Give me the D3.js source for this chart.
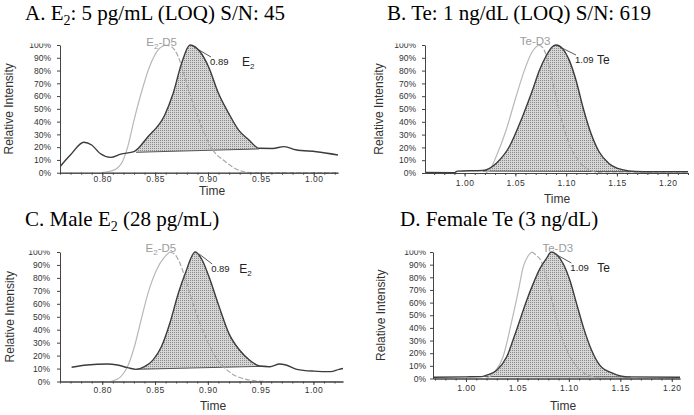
<!DOCTYPE html>
<html>
<head>
<meta charset="utf-8">
<script src="https://cdn.jsdelivr.net/npm/d3@7"></script>
<style>
  body { margin: 0; background: #fff; }
  svg { display: block; background: #fff; }
  .tick text { font-family: "Liberation Sans", Arial, sans-serif; font-size: 8.5px; fill: #333; }
  .axis path, .axis line { stroke: #444; }
  .title { font-family: "Liberation Serif", "Times New Roman", serif; font-size: 21px; fill: #000; }
  .lab { font-family: "Liberation Sans", Arial, sans-serif; fill: #333; }
</style>
</head>
<body>
<svg id="chart" width="694" height="415"></svg>
<script>
// A. E2 at LOQ
const timeA = [0.760, 0.770, 0.7825, 0.790, 0.798, 0.808, 0.8175, 0.830, 0.843, 0.859, 0.867, 0.875, 0.883, 0.8925, 0.9005, 0.910, 0.9196, 0.929, 0.9388, 0.9483, 0.961, 0.9722, 0.983, 1.0026, 1.023];
const e2A = [4.7, 14, 23.8, 21.7, 15, 12, 14.6, 16.5, 28, 45, 62, 85.6, 100, 94.7, 83, 62, 46.5, 33.4, 25.6, 19.1, 19, 20.4, 18, 16.4, 13.9];
const timeIsA = [0.800, 0.811, 0.819, 0.824, 0.830, 0.8367, 0.8447, 0.8526, 0.859, 0.8654, 0.8718, 0.878, 0.886, 0.894, 0.9036, 0.9165, 0.929, 0.942, 1.023];
const e2d5A = [0, 2, 8.6, 20, 41, 62, 83, 96, 100, 98.7, 91, 75, 54, 36, 19, 8.6, 2, 0, 0];
const intTimeA = [0.832, 0.9483];
const intLevelA = [16, 18.6];

// B. Te at LOQ
const timeB = [0.961, 0.990, 0.993, 1.018, 1.031, 1.044, 1.057, 1.067, 1.0736, 1.080, 1.0864, 1.090, 1.0966, 1.1031, 1.1097, 1.1164, 1.1244, 1.1324, 1.1424, 1.1554, 1.168, 1.185, 1.220];
const teB = [0.5, 0.3, 1.5, 2, 7.5, 20.5, 44, 65, 80, 91, 98.7, 100, 97, 88, 72.5, 51.8, 31, 16.6, 7.3, 2.6, 1.2, 1, 1];
const timeIsB = [1.021, 1.026, 1.031, 1.0407, 1.0504, 1.0588, 1.0654, 1.0704, 1.0734, 1.0784, 1.0834, 1.090, 1.0966, 1.1044, 1.113, 1.1229, 1.136, 1.220];
const teD3B = [0, 4, 12.7, 33, 59, 80, 93, 98.5, 100, 96, 83, 59.6, 38.6, 20.3, 8.8, 2.3, 0, 0];
const intTimeB = [1.018, 1.185];
const intLevelB = [1.5, 1];

// C. male E2
const timeC = [0.771, 0.7856, 0.8048, 0.8144, 0.824, 0.832, 0.840, 0.848, 0.856, 0.864, 0.872, 0.8786, 0.888, 0.8945, 0.901, 0.9106, 0.920, 0.930, 0.9394, 0.949, 0.9587, 0.968, 0.974, 0.9843, 1.0003, 1.0163, 1.0243, 1.028];
const e2C = [11, 12.7, 13.5, 12.7, 10.7, 9.4, 11.4, 16.5, 26.8, 45, 68, 83.4, 100, 94, 81, 58, 37, 24.3, 16.6, 12, 11.4, 13.5, 12.7, 9.4, 8, 7.6, 9.4, 10];
const timeIsC = [0.808, 0.8176, 0.824, 0.8305, 0.8368, 0.8433, 0.8513, 0.8593, 0.8641, 0.869, 0.8738, 0.880, 0.888, 0.8978, 0.9074, 0.920, 0.9363, 0.9555, 1.028];
const e2d5C = [0, 3.8, 11.5, 27, 47.5, 68, 86, 96.4, 100, 98, 91, 75.7, 55, 34.6, 19, 7.6, 1.7, 0, 0];
const intTimeC = [0.832, 0.9555];
const intLevelC = [9.4, 11.8];

// D. female Te
const timeD = [0.968, 1.000, 1.015, 1.020, 1.030, 1.0395, 1.049, 1.059, 1.0654, 1.072, 1.078, 1.083, 1.088, 1.0945, 1.101, 1.1075, 1.114, 1.122, 1.130, 1.143, 1.156, 1.208];
const teD = [1, 1.3, 1.5, 2.6, 6.5, 17, 38, 61.7, 75, 87, 94.6, 100, 98, 90.7, 77.6, 59.2, 40.8, 22.5, 10.6, 4, 1.3, 1];
const timeIsD = [1.020, 1.028, 1.036, 1.044, 1.051, 1.0556, 1.0605, 1.064, 1.069, 1.073, 1.078, 1.085, 1.093, 1.101, 1.111, 1.124, 1.135, 1.208];
const teD3D = [0, 5.3, 17, 43.5, 69.6, 88, 97, 100, 97, 93, 80.6, 57, 33, 17.5, 6.5, 1.3, 0, 0];
const intTimeD = [1.018, 1.16];
const intLevelD = [1.5, 1.2];

const yTicks = [0, 10, 20, 30, 40, 50, 60, 70, 80, 90, 100];
const e2Ticks = [0.80, 0.85, 0.90, 0.95, 1.00];
const teTicks = [1.00, 1.05, 1.10, 1.15, 1.20];

const panels = [
    { title: [["A. E", 0], ["2", 1], [": 5 pg/mL (LOQ) S/N: 45", 0]], titleX: 25, titleY: 20,
      left: 60, right: 338, top: 45, bottom: 172.7, domain: [0.760, 1.023], xTicks: e2Ticks,
      t: timeA, v: e2A, tIs: timeIsA, vIs: e2d5A, intT: intTimeA, intV: intLevelA,
      isLabel: [["E", 0], ["2", 1], ["-D5", 0]], isDx: -3, isY: 46,
      rt: "0.89", analyte: [["E", 0], ["2", 1]], rtDx: 20, rtDy: 20, anDx: 32,
      yLabelX: 9, timeX: 212, timeY: 195, xPad: 0, yPad: 6 },
    { title: [["B. Te: 1 ng/dL (LOQ) S/N: 619", 0]], titleX: 387, titleY: 20,
      left: 425, right: 688, top: 45, bottom: 173, domain: [0.961, 1.220], xTicks: teTicks,
      t: timeB, v: teB, tIs: timeIsB, vIs: teD3B, intT: intTimeB, intV: intLevelB,
      isLabel: [["Te-D3", 0]], isDx: -4, isY: 45,
      rt: "1.09", analyte: [["Te", 0]], rtDx: 19, rtDy: 18, anDx: 22,
      yLabelX: 379, timeX: 557, timeY: 203, xPad: 3, yPad: 6 },
    { title: [["C. Male E", 0], ["2", 1], [" (28 pg/mL)", 0]], titleX: 25, titleY: 226,
      left: 60, right: 343, top: 252, bottom: 381.5, domain: [0.760, 1.028], xTicks: e2Ticks,
      t: timeC, v: e2C, tIs: timeIsC, vIs: e2d5C, intT: intTimeC, intV: intLevelC,
      isLabel: [["E", 0], ["2", 1], ["-D5", 0]], isDx: -9, isY: 252,
      rt: "0.89", analyte: [["E", 0], ["2", 1]], rtDx: 16, rtDy: 20, anDx: 28,
      yLabelX: 10, timeX: 213, timeY: 410, xPad: 1.5, yPad: 7 },
    { title: [["D. Female Te (3 ng/dL)", 0]], titleX: 400, titleY: 226,
      left: 433, right: 680, top: 252, bottom: 378.5, domain: [0.968, 1.208], xTicks: teTicks,
      t: timeD, v: teD, tIs: timeIsD, vIs: teD3D, intT: intTimeD, intV: intLevelD,
      isLabel: [["Te-D3", 0]], isDx: 26, isY: 252,
      rt: "1.09", analyte: [["Te", 0]], rtDx: 19, rtDy: 19, anDx: 27,
      yLabelX: 381, timeX: 563, timeY: 410, xPad: 2.5, yPad: 4 }
];

const svg = d3.select("#chart");
const defs = svg.append("defs");

// dotted gray fill used for the integrated peak
let pat = defs.append("pattern")
    .attr("id", "dots")
    .attr("patternUnits", "userSpaceOnUse")
    .attr("width", 2).attr("height", 2);
pat.append("rect").attr("width", 2).attr("height", 2).attr("fill", "#d6d6d6");
pat.append("rect").attr("width", 1).attr("height", 1).attr("fill", "#8a8a8a");

function richText(sel, parts, subSize, subDy) {
    parts.forEach(function (p, i) {
        let ts = sel.append("tspan").text(p[0]);
        if (p[1]) {
            ts.attr("font-size", subSize).attr("dy", subDy);
        } else if (i > 0 && parts[i - 1][1]) {
            ts.attr("dy", -subDy);
        }
    });
}

panels.forEach(function (p, k) {
    let x = d3.scaleLinear().domain(p.domain).range([p.left, p.right]);
    let y = d3.scaleLinear().domain([0, 100]).range([p.bottom, p.top]);
    let g = svg.append("g");

    let title = g.append("text").attr("class", "title")
        .attr("x", p.titleX).attr("y", p.titleY);
    richText(title, p.title, 14, 5);

    defs.append("clipPath").attr("id", "plot" + k)
        .append("rect")
        .attr("x", p.left).attr("y", p.top - 6)
        .attr("width", p.right - p.left).attr("height", p.bottom - p.top + 6);
    // the top of the "100%" label is cut off in the original
    defs.append("clipPath").attr("id", "ylab" + k)
        .append("rect")
        .attr("x", -60).attr("y", p.top - 1.5)
        .attr("width", 70).attr("height", p.bottom - p.top + 20);

    let pts = p.t.map((t, i) => ({ t: t, v: p.v[i] }));
    let isPts = p.tIs.map((t, i) => ({ t: t, v: p.vIs[i] }));

    // integrated area between trace and the drawn baseline
    let t0 = p.intT[0], t1 = p.intT[1];
    let base = t => p.intV[0] + (t - t0) / (t1 - t0) * (p.intV[1] - p.intV[0]);
    let inside = [{ t: t0, v: p.intV[0] }]
        .concat(pts.filter(d => d.t > t0 && d.t < t1))
        .concat([{ t: t1, v: p.intV[1] }]);

    let plot = g.append("g").attr("clip-path", "url(#plot" + k + ")");

    plot.append("path")
        .attr("d", d3.area()
            .x(d => x(d.t))
            .y0(d => y(base(d.t)))
            .y1(d => y(d.v))
            .curve(d3.curveMonotoneX)(inside))
        .attr("fill", "url(#dots)");

    plot.append("line")
        .attr("x1", x(t0)).attr("y1", y(p.intV[0]))
        .attr("x2", x(t1)).attr("y2", y(p.intV[1]))
        .attr("stroke", "#555").attr("stroke-width", 1);

    // internal standard: solid on the way up, dashed on the way down
    let top = d3.maxIndex(isPts, d => d.v);
    let line = d3.line().x(d => x(d.t)).y(d => y(d.v)).curve(d3.curveMonotoneX);
    plot.append("path")
        .attr("d", line(isPts.slice(0, top + 1)))
        .attr("fill", "none").attr("stroke", "#b8b8b8").attr("stroke-width", 1.2);
    plot.append("path")
        .attr("d", line(isPts.slice(top)))
        .attr("fill", "none").attr("stroke", "#a8a8a8").attr("stroke-width", 1.2)
        .attr("stroke-dasharray", "5,2");

    plot.append("path")
        .attr("d", line(pts))
        .attr("fill", "none").attr("stroke", "#3c3c3c").attr("stroke-width", 1.4);

    // axes
    g.append("g").attr("class", "axis")
        .attr("transform", "translate(0," + p.bottom + ")")
        .call(d3.axisBottom(x).tickValues(x.ticks(26)).tickSize(2).tickSizeOuter(0).tickFormat(""));
    g.append("g").attr("class", "axis")
        .attr("transform", "translate(0," + p.bottom + ")")
        .call(d3.axisBottom(x).tickValues(p.xTicks).tickSize(3.5).tickSizeOuter(0)
            .tickPadding(p.xPad).tickFormat(d3.format(".2f")))
        .selectAll("text").attr("letter-spacing", "0.5px");
    g.append("g").attr("class", "axis")
        .attr("transform", "translate(" + p.left + ",0)")
        .attr("clip-path", "url(#ylab" + k + ")")
        .call(d3.axisLeft(y).tickValues(yTicks).tickSize(3).tickSizeOuter(0)
            .tickPadding(p.yPad).tickFormat(d => d + "%"));

    g.append("text").attr("class", "lab")
        .attr("transform", "translate(" + p.yLabelX + "," + ((p.top + p.bottom) / 2) + ") rotate(-90)")
        .attr("text-anchor", "middle").attr("dy", "0.35em")
        .attr("font-size", 12)
        .text("Relative Intensity");
    g.append("text").attr("class", "lab")
        .attr("x", p.timeX).attr("y", p.timeY)
        .attr("text-anchor", "middle").attr("font-size", 12)
        .text("Time");

    // peak annotations
    let peak = pts[d3.maxIndex(pts, d => d.v)];
    let isPeak = isPts[top];
    let px = x(peak.t), py = y(peak.v);
    let isLab = g.append("text").attr("class", "lab")
        .attr("x", x(isPeak.t) + p.isDx).attr("y", p.isY)
        .attr("text-anchor", "middle").attr("font-size", 11.5)
        .style("fill", "#9c9c9c");
    richText(isLab, p.isLabel, 8, 3);

    g.append("line")
        .attr("x1", px + 4).attr("y1", py + 2)
        .attr("x2", px + p.rtDx + 1).attr("y2", py + p.rtDy - 8)
        .attr("stroke", "#444").attr("stroke-width", 0.9);
    g.append("text").attr("class", "lab")
        .attr("x", px + p.rtDx).attr("y", py + p.rtDy)
        .attr("font-size", 9.5).style("fill", "#222")
        .text(p.rt);
    let an = g.append("text").attr("class", "lab")
        .attr("x", px + p.rtDx + p.anDx).attr("y", py + p.rtDy + 1)
        .attr("font-size", 12).style("fill", "#222");
    richText(an, p.analyte, 8, 3);
});
</script>
</body>
</html>
